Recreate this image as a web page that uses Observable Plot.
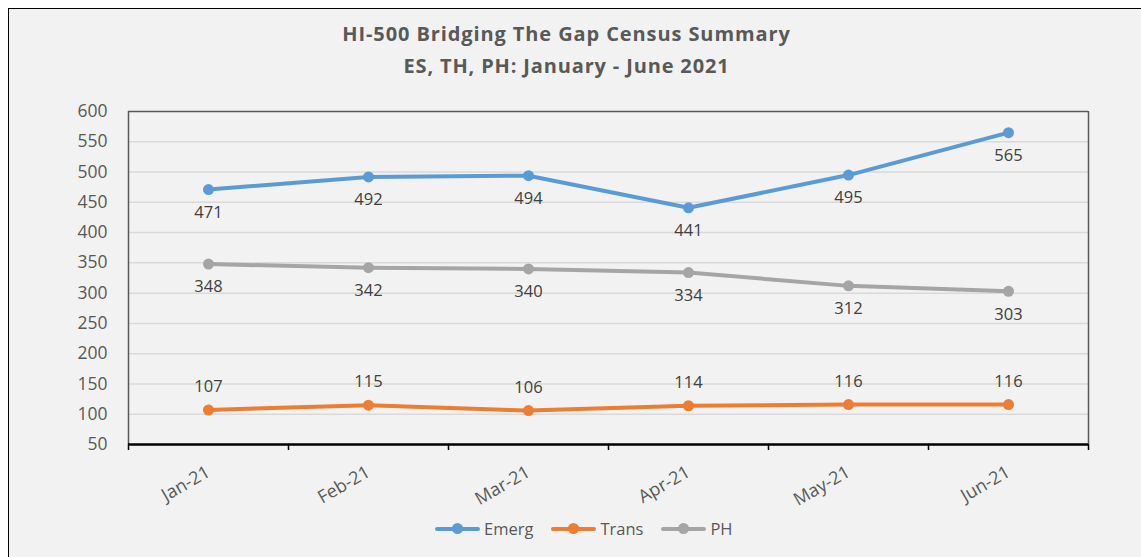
<!DOCTYPE html>
<html>
<head>
<meta charset="utf-8">
<script src="https://cdn.jsdelivr.net/npm/d3@7"></script>
<script src="https://cdn.jsdelivr.net/npm/@observablehq/plot@0.6"></script>
<style>
  html, body { margin: 0; padding: 0; background: #ffffff; }
  #page { position: relative; width: 1141px; height: 557px; overflow: hidden; font-family: "Open Sans", sans-serif; }
  #box { position: absolute; left: 8px; top: 8px; width: 1140px; height: 560px; background: #f2f2f2; border: 1.5px solid #000; box-sizing: border-box; }
  .title { position: absolute; left: 0; width: 1133px; text-align: center; color: #595959; font-weight: bold; font-size: 20px; white-space: nowrap; }
  #chart { position: absolute; left: 0; top: 0; }
  #legend { position: absolute; left: 435px; top: 517px; display: flex; align-items: center; color: #595959; font-size: 16.5px; }
  .item { display: flex; align-items: center; margin-right: 18px; }
  .sw { position: relative; width: 45px; height: 12px; margin-right: 4px; }
  .sw .ln { position: absolute; left: 0; right: 0; top: 4px; height: 4px; border-radius: 2px; }
  .sw .dt { position: absolute; left: 17px; top: 0; width: 11px; height: 11px; border-radius: 50%; }
</style>
</head>
<body>
<div id="page">
  <div id="box"></div>
  <div class="title" id="t1" style="top:20px; letter-spacing:0.9px"></div>
  <div class="title" id="t2" style="top:52px; letter-spacing:0.85px"></div>
  <div id="chart"></div>
  <div id="legend"></div>
</div>
<script>
const titleText = "HI-500 Bridging The Gap Census Summary";
const subtitleText = "ES, TH, PH: January - June 2021";
const months = ["Jan-21", "Feb-21", "Mar-21", "Apr-21", "May-21", "Jun-21"];
const emerg = [471, 492, 494, 441, 495, 565];
const trans = [107, 115, 106, 114, 116, 116];
const ph = [348, 342, 340, 334, 312, 303];
const seriesNames = ["Emerg", "Trans", "PH"];
const seriesColors = ["#5b9bd5", "#ed7d31", "#a5a5a5"];
const yTicks = [50, 100, 150, 200, 250, 300, 350, 400, 450, 500, 550, 600];

document.getElementById("t1").textContent = titleText;
document.getElementById("t2").textContent = subtitleText;

const seriesValues = [emerg, trans, ph];
const rows = [];
seriesNames.forEach((s, k) => seriesValues[k].forEach((v, i) => rows.push({series: s, i, value: v})));

const idx = months.map((_, i) => i);
const bounds = [...idx.map(i => i - 0.5), months.length - 0.5];
const yMin = yTicks[0], yMax = yTicks[yTicks.length - 1];

const chart = Plot.plot({
  width: 1141,
  height: 557,
  marginTop: 111,
  marginBottom: 113,
  marginLeft: 128,
  marginRight: 53,
  style: {background: "transparent", fontFamily: "'Open Sans', sans-serif", color: "#595959"},
  x: {type: "linear", domain: [bounds[0], bounds[bounds.length - 1]], label: null},
  y: {domain: [yMin, yMax], label: null},
  color: {domain: seriesNames, range: seriesColors},
  marks: [
    Plot.ruleY(yTicks.filter(v => v > yMin && v < yMax), {stroke: "#d9d9d9", strokeWidth: 1.5}),
    Plot.ruleY([yMax], {stroke: "#595959", strokeWidth: 1.5}),
    Plot.ruleX([bounds[bounds.length - 1]], {stroke: "#595959", strokeWidth: 1.5}),
    Plot.ruleX([bounds[0]], {stroke: "#595959", strokeWidth: 1.5}),
    Plot.axisX({ticks: bounds, tickSize: 6, tickFormat: () => "", stroke: "#000", strokeWidth: 1.5, label: null}),
    Plot.ruleY([yMin], {stroke: "#000", strokeWidth: 2.5}),
    Plot.axisY({ticks: yTicks, tickSize: 0, tickPadding: 21, fontSize: 17.5, fill: "#595959", label: null}),
    Plot.axisX({ticks: idx, tickFormat: i => months[i], tickSize: 0, tickPadding: 26, tickRotate: -30, fontSize: 18, fill: "#595959", label: null}),
    Plot.line(rows, {x: "i", y: "value", z: "series", stroke: "series", strokeWidth: 4, strokeLinecap: "round", strokeLinejoin: "round"}),
    Plot.dot(rows, {x: "i", y: "value", fill: "series", r: 5.5}),
    Plot.text(rows.filter(d => d.series !== "Trans"), {x: "i", y: "value", text: d => String(d.value), dy: 23, fontSize: 16.5, fill: "#404040"}),
    Plot.text(rows.filter(d => d.series === "Trans"), {x: "i", y: "value", text: d => String(d.value), dy: -23, fontSize: 16.5, fill: "#404040"})
  ]
});
document.getElementById("chart").appendChild(chart);

const legend = document.getElementById("legend");
seriesNames.forEach((s, k) => {
  const item = document.createElement("div");
  item.className = "item";
  const sw = document.createElement("div");
  sw.className = "sw";
  const ln = document.createElement("div"); ln.className = "ln"; ln.style.background = seriesColors[k];
  const dt = document.createElement("div"); dt.className = "dt"; dt.style.background = seriesColors[k];
  sw.appendChild(ln); sw.appendChild(dt);
  const lab = document.createElement("span"); lab.textContent = s;
  item.appendChild(sw); item.appendChild(lab);
  legend.appendChild(item);
});
</script>
</body>
</html>
